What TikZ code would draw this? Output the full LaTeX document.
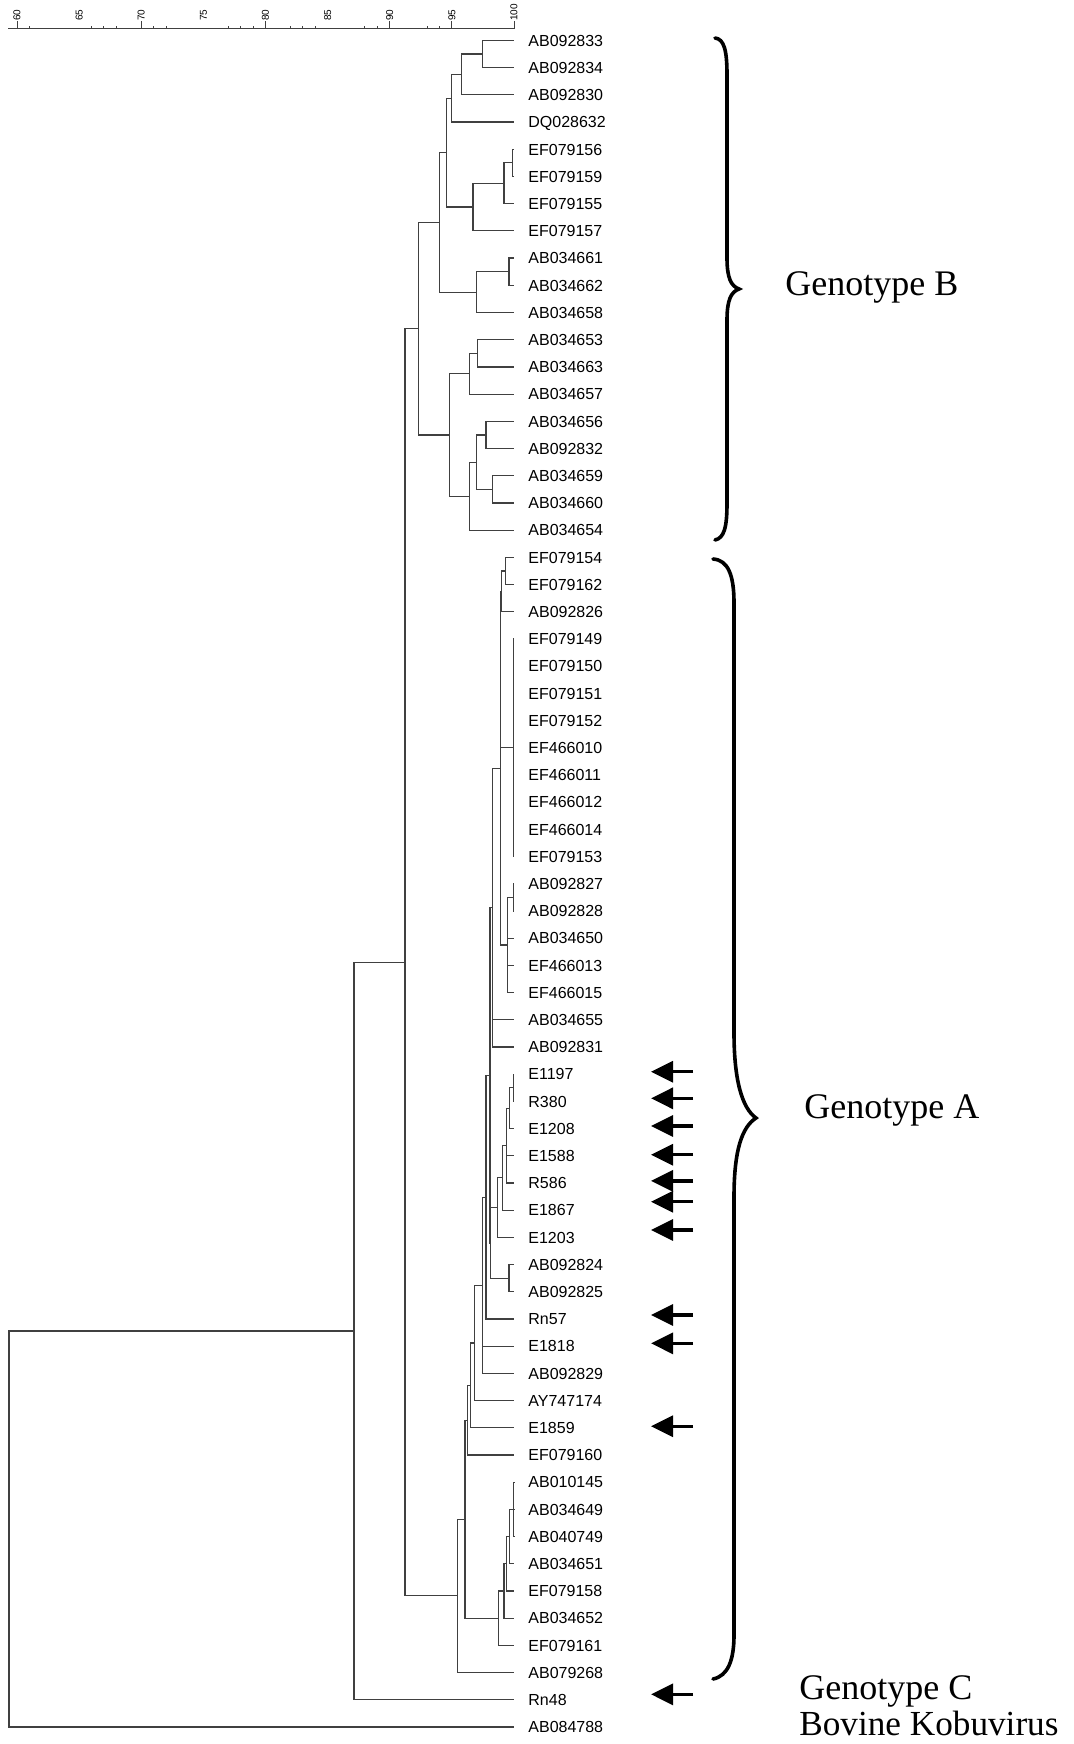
\documentclass[tikz,border=0pt]{standalone}
\usepackage{fontspec}
\setmainfont{Liberation Serif}
\newfontfamily\labfont{Liberation Sans}
\usetikzlibrary{arrows.meta,calc}
\tikzset{
  branch/.style={draw=black!75, line width=0.6pt},
  leaf/.style={anchor=west, inner xsep=7pt, inner ysep=0pt, text height=5.73pt, text depth=0pt,
    font=\labfont\fontsize{8}{9.6}\selectfont},
  axisline/.style={draw=black!75, line width=0.5pt},
  ticklab/.style={rotate=90, anchor=west, inner sep=0pt, font=\labfont\fontsize{5}{6}\selectfont},
  tagarrow/.style={draw=black, line width=1.6pt, -{Triangle[length=11pt,width=10.5pt]}},
  curlybrace/.style={draw=black, line width=1.8pt, line cap=round},
  genolab/.style={anchor=base west, inner sep=0pt, font=\fontsize{18}{21}\selectfont}
}
\begin{document}
\begin{tikzpicture}[x=0.5pt,y=-0.5pt]
      \pgfmathsetmacro{\ux}{12.425}
      \pgfmathsetmacro{\rowh}{27.2}
      \useasboundingbox (0,0) rectangle (1073,1744);
      % similarity scale
      \draw[axisline] (8,29) -- (514.5,29);
      \foreach \v in {60,70,80,90,95,100}
        \draw[axisline] ({514-(100-\v)*\ux},29) -- ++(0,-8);
      \foreach \v in {61,66,67,68,71,72,77,78,79,82,83,84,88,89,93,94}
        \draw[axisline] ({514-(100-\v)*\ux},29) -- ++(0,-3);
      \foreach \v in {60,65,...,100}
        \node[ticklab] at ({514-(100-\v)*\ux},21) {\v};
      % leaves
      \foreach \lab [count=\i from 0] in {AB092833,AB092834,AB092830,DQ028632,EF079156,EF079159,EF079155,
          EF079157,AB034661,AB034662,AB034658,AB034653,AB034663,AB034657,AB034656,AB092832,AB034659,
          AB034660,AB034654,EF079154,EF079162,AB092826,EF079149,EF079150,EF079151,EF079152,EF466010,
          EF466011,EF466012,EF466014,EF079153,AB092827,AB092828,AB034650,EF466013,EF466015,AB034655,
          AB092831,E1197,R380,E1208,E1588,R586,E1867,E1203,AB092824,AB092825,Rn57,E1818,AB092829,
          AY747174,E1859,EF079160,AB010145,AB034649,AB040749,AB034651,EF079158,AB034652,EF079161,
          AB079268,Rn48,AB084788}
        \node[leaf] (\lab) at (514,{40.5+\rowh*\i}) {\lab};
      % clusters, genotype B
      \coordinate (b1) at (482.4,54.1);
      \coordinate (b2) at (461.7,74.5);
      \coordinate (b3) at (451.8,98.3);
      \coordinate (b4) at (512.8,162.9);
      \coordinate (b5) at (504.0,183.3);
      \coordinate (b6) at (472.9,207.1);
      \coordinate (b7) at (446.8,152.7);
      \coordinate (b8) at (509.0,271.7);
      \coordinate (b9) at (476.6,292.1);
      \coordinate (b10) at (439.3,222.4);
      \coordinate (b11) at (477.3,353.3);
      \coordinate (b12) at (469.2,373.7);
      \coordinate (b13) at (486.0,434.9);
      \coordinate (b14) at (492.8,489.3);
      \coordinate (b15) at (476.6,462.1);
      \coordinate (b16) at (469.2,496.1);
      \coordinate (b17) at (449.3,434.9);
      \coordinate (bB) at (418.1,328.7);
      % clusters, genotype A
      \coordinate (a1) at (505.7,570.9);
      \coordinate (a2) at (501.7,591.3);
      \coordinate (a4) at (513.2,747.7);
      \coordinate (a5) at (513.3,897.3);
      \coordinate (a6) at (507.5,944.9);
      \coordinate (a7) at (500.7,768.1);
      \coordinate (a8) at (492.8,907.5);
      \coordinate (a9) at (513.3,1087.7);
      \coordinate (a10) at (509.3,1108.1);
      \coordinate (a11) at (506.7,1145.5);
      \coordinate (a12) at (502.3,1177.8);
      \coordinate (a13) at (497.3,1207.6);
      \coordinate (a14) at (509.0,1278.1);
      \coordinate (a15) at (490.5,1242.9);
      \coordinate (a16) at (490.0,1075.2);
      \coordinate (a17) at (486.0,1197.1);
      \coordinate (a18) at (482.3,1285.2);
      \coordinate (a19) at (474.3,1342.9);
      \coordinate (a20) at (470.7,1385.3);
      \coordinate (a21) at (467.3,1420.1);
      \coordinate (a22) at (513.8,1509.3);
      \coordinate (a23) at (509.3,1536.5);
      \coordinate (a24) at (506.7,1563.7);
      \coordinate (a25) at (504.0,1590.9);
      \coordinate (a26) at (498.3,1618.1);
      \coordinate (a27) at (465.0,1519.1);
      \coordinate (aA) at (457.3,1595.8);
      % deeper joins
      \coordinate (nAB) at (405.0,962.3);
      \coordinate (nABC) at (354.0,1331.0);
      \coordinate (root) at (9.0,1529.0);
      \foreach \p/\c in {b1/AB092833,b1/AB092834,b2/b1,b2/AB092830,b3/b2,b3/DQ028632,b4/EF079156,
          b4/EF079159,b5/b4,b5/EF079155,b6/b5,b6/EF079157,b7/b3,b7/b6,b8/AB034661,b8/AB034662,b9/b8,
          b9/AB034658,b10/b7,b10/b9,b11/AB034653,b11/AB034663,b12/b11,b12/AB034657,b13/AB034656,
          b13/AB092832,b14/AB034659,b14/AB034660,b15/b13,b15/b14,b16/b15,b16/AB034654,b17/b12,b17/b16,
          bB/b10,bB/b17,
          a1/EF079154,a1/EF079162,a2/a1,a2/AB092826,a4/EF079149,a4/EF079150,a4/EF079151,a4/EF079152,
          a4/EF466010,a4/EF466011,a4/EF466012,a4/EF466014,a4/EF079153,a5/AB092827,a5/AB092828,a6/a5,
          a6/AB034650,a6/EF466013,a6/EF466015,a7/a2,a7/a4,a7/a6,a8/a7,a8/AB034655,a8/AB092831,
          a9/E1197,a9/R380,a10/a9,a10/E1208,a11/a10,a11/E1588,a11/R586,a12/a11,a12/E1867,a13/a12,
          a13/E1203,a14/AB092824,a14/AB092825,a15/a13,a15/a14,a16/a8,a16/a15,a17/a16,a17/Rn57,
          a18/a17,a18/E1818,a18/AB092829,a19/a18,a19/AY747174,a20/a19,a20/E1859,a21/a20,a21/EF079160,
          a22/AB010145,a22/AB034649,a22/AB040749,a23/a22,a23/AB034651,a24/a23,a24/EF079158,a25/a24,
          a25/AB034652,a26/a25,a26/EF079161,a27/a21,a27/a26,aA/a27,aA/AB079268,
          nAB/bB,nAB/aA,nABC/nAB,nABC/Rn48,root/nABC,root/AB084788}
        \draw[branch] (\p) |- (\c);
      % arrows at the new strains
      \coordinate (arrtail) at (693,0);
      \coordinate (arrtip) at (651,0);
      \foreach \lab/\dy in {E1197/-2.4,R380/-3,E1208/-2.5,E1588/-1,R586/-2,E1867/-8.4,E1203/-7.3,
          Rn57/-3.9,E1818/-2.8,E1859/-1.5,Rn48/-5.4} {
        \coordinate (m\lab) at ($(\lab.west)+(0,\dy)$);
        \draw[tagarrow] (arrtail |- m\lab) -- (arrtip |- m\lab);
      }
      % braces
      \draw[curlybrace] (715,38) .. controls (724,39) and (727,50) .. (727,75) -- (727,258)
        .. controls (727,278) and (731,286) .. (739,289) .. controls (731,292) and (727,300) .. (727,320)
        -- (727,503) .. controls (727,528) and (724,538) .. (715,540);
      \draw[curlybrace] (713,559) .. controls (728,560) and (734,575) .. (734,603) -- (734,1033)
        .. controls (734,1080) and (742,1108) .. (756,1118) .. controls (742,1127) and (734,1150) .. (734,1197)
        -- (734,1635) .. controls (734,1660) and (728,1676) .. (713,1679);
      \node[genolab] (genoB) at (785,295) {Genotype B};
      \node[genolab] (genoA) at (804,1118) {Genotype A};
      \node[genolab] (genoC) at (799,1699) {Genotype C};
      \node[genolab, font=\fontsize{17.6}{21}\selectfont] (bovine) at (799,1735) {Bovine Kobuvirus};
\end{tikzpicture}
\end{document}
